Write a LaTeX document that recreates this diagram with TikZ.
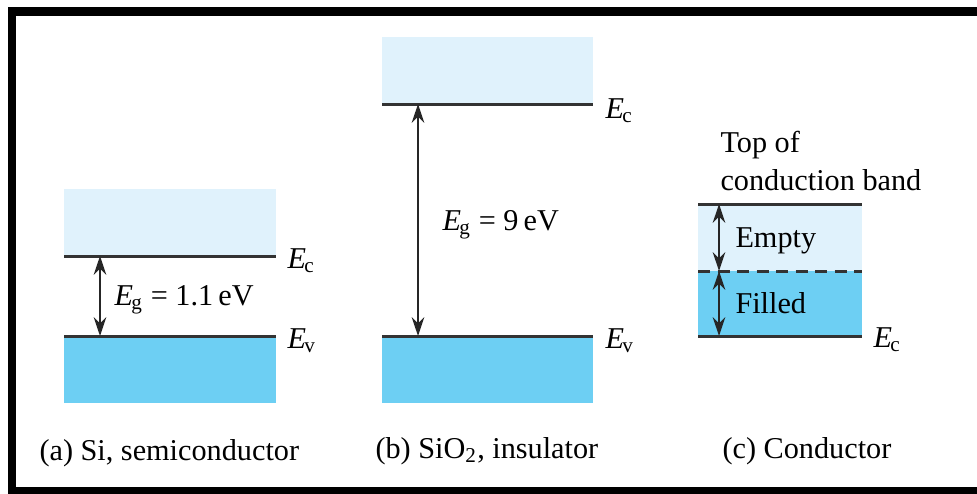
\documentclass[tikz,border=0pt]{standalone}
\usepackage{fontspec}
\setmainfont{LiberationSerif}[
    Extension=.ttf,
    UprightFont=*-Regular,
    ItalicFont=*-Italic,
    BoldFont=*-Bold,
    BoldItalicFont=*-BoldItalic]
\usetikzlibrary{calc, arrows.meta, backgrounds}
\definecolor{LBand}{HTML}{E0F2FC}
\definecolor{DBand}{HTML}{6DCFF3}
\definecolor{Level}{HTML}{333333}
\newcommand{\En}[1]{\textit{E}\kern-0.6pt\textsubscript{#1}}
\tikzset{
    level/.style={Level, line width=1.2pt},
    gap/.style={black!85, line width=0.7pt, {Stealth[length=7.5pt, width=5pt]}-{Stealth[length=7.5pt, width=5pt]}},
    lbl/.style={anchor=base west, inner sep=0pt}
}

\begin{document}
\begin{tikzpicture}[x=0.4pt, y=-0.4pt, font=\fontsize{12.1}{14.5}\selectfont]
\useasboundingbox (0,0) rectangle (977,493);
\draw[line width=3.4pt] (990,11.5) -- (12,11.5) -- (12,491) -- (990,491);

\begin{scope}[name prefix=a-]
    \coordinate (ec-left) at (64,256);
    \coordinate (ec-right) at (276,256);
    \coordinate (ev-left) at (64,336);
    \coordinate (ev-right) at (276,336);
    \coordinate (ec-gap) at (100,256);
    \coordinate (ev-gap) at (100,336);
\end{scope}

\begin{scope}[name prefix=b-]
    \coordinate (ec-left) at (382,104);
    \coordinate (ec-right) at (593,104);
    \coordinate (ev-left) at (382,336);
    \coordinate (ev-right) at (593,336);
    \coordinate (ec-gap) at (418,104);
    \coordinate (ev-gap) at (418,336);
\end{scope}

\begin{scope}[name prefix=c-]
    \coordinate (top-left) at (698,204);
    \coordinate (top-right) at (862,204);
    \coordinate (mid-left) at (698,271);
    \coordinate (mid-right) at (862,271);
    \coordinate (ec-left) at (698,336);
    \coordinate (ec-right) at (862,336);
    \coordinate (top-gap) at (719,204);
    \coordinate (mid-gap) at (719,271);
    \coordinate (ec-gap) at (719,336);
\end{scope}

% (a) semiconductor
\fill[LBand] (a-ec-left) rectangle ($(a-ec-right)+(0,-67)$);
\fill[DBand] (a-ev-left) rectangle ($(a-ev-right)+(0,67)$);
\draw[level] (a-ec-left) -- (a-ec-right);
\draw[level] (a-ev-left) -- (a-ev-right);
\draw[gap] (a-ec-gap) -- (a-ev-gap);
\node[lbl] (a-eg) at (114,305) {\En{g} = 1.1\,eV};
\node[lbl] (a-ec) at (287,268) {\En{c}};
\node[lbl] (a-ev) at (287,348) {\En{v}};
\node[lbl] (a-cap) at (39,460) {(a) Si, semiconductor};

% (b) insulator
\fill[LBand] (b-ec-left) rectangle ($(b-ec-right)+(0,-67)$);
\fill[DBand] (b-ev-left) rectangle ($(b-ev-right)+(0,67)$);
\draw[level] (b-ec-left) -- (b-ec-right);
\draw[level] (b-ev-left) -- (b-ev-right);
\draw[gap] (b-ec-gap) -- (b-ev-gap);
\node[lbl] (b-eg) at (442,230) {\En{g} = 9\,eV};
\node[lbl] (b-ec) at (605,118) {\En{c}};
\node[lbl] (b-ev) at (605,348) {\En{v}};
\node[lbl] (b-cap) at (375,458) {(b) SiO\textsubscript{2}, insulator};

% (c) conductor
\fill[LBand] (c-top-left) rectangle (c-mid-right);
\fill[DBand] (c-mid-left) rectangle (c-ec-right);
\draw[level] (c-top-left) -- (c-top-right);
\draw[level, dash pattern=on 4.8pt off 3pt] (c-mid-left) -- (c-mid-right);
\draw[level] (c-ec-left) -- (c-ec-right);
\draw[gap] (c-top-gap) -- (c-mid-gap);
\draw[gap] (c-mid-gap) -- (c-ec-gap);
\node[lbl] (c-empty) at (735,247) {Empty};
\node[lbl] (c-filled) at (735,313) {Filled};
\node[lbl] (c-ec) at (873,347) {\En{c}};
\node[lbl] (c-top) at (720,152) {Top of};
\node[lbl] (c-band) at (720,190) {conduction band};
\node[lbl] (c-cap) at (722,458) {(c) Conductor};

\end{tikzpicture}
\end{document}
